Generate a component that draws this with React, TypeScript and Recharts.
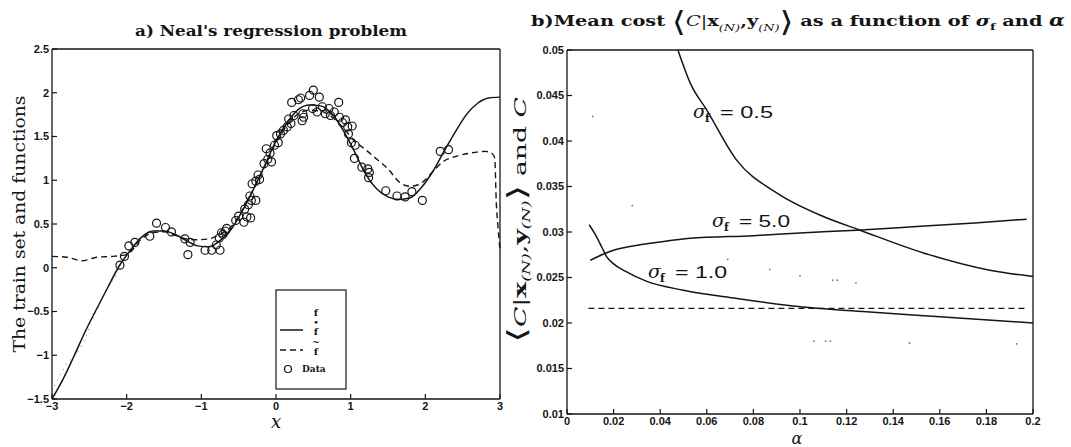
import { ComposedChart, Line, Scatter, XAxis, YAxis } from "recharts";

const SANS = "'Liberation Sans', Arial, sans-serif";
const SERIF = "'DejaVu Serif', 'Liberation Serif', serif";
const BRACKET = "'DejaVu Sans', sans-serif";
const INK = "#151515";

// a) Neal's regression problem
const fX = [-3, -2.85, -2.7, -2.55, -2.42, -2.25, -2.1, -1.95, -1.8, -1.65, -1.5, -1.35, -1.2, -1.05, -0.9, -0.75, -0.6, -0.45, -0.3, -0.15, 0, 0.15, 0.3, 0.45, 0.6, 0.75, 0.9, 1.05, 1.2, 1.35, 1.5, 1.65, 1.8, 1.95, 2.1, 2.25, 2.4, 2.55, 2.7, 2.85, 3];
const fY = [-1.5, -1.27, -1.0, -0.72, -0.5, -0.22, 0.02, 0.2, 0.35, 0.42, 0.42, 0.38, 0.31, 0.25, 0.24, 0.31, 0.44, 0.65, 0.9, 1.17, 1.45, 1.66, 1.81, 1.86, 1.85, 1.76, 1.57, 1.33, 1.07, 0.9, 0.81, 0.78, 0.8, 0.92, 1.1, 1.33, 1.55, 1.75, 1.88, 1.94, 1.95];

const fTildeX = [-3, -2.8, -2.6, -2.4, -2.2, -2.0, -1.8, -1.65, -1.5, -1.35, -1.2, -1.05, -0.9, -0.75, -0.6, -0.45, -0.3, -0.15, 0, 0.15, 0.3, 0.45, 0.6, 0.75, 0.9, 1.05, 1.2, 1.35, 1.5, 1.65, 1.8, 1.95, 2.1, 2.25, 2.4, 2.6, 2.8, 2.9, 2.93, 2.95, 2.97, 3];
const fTildeY = [0.13, 0.12, 0.08, 0.12, 0.13, 0.15, 0.33, 0.4, 0.41, 0.37, 0.33, 0.32, 0.33, 0.38, 0.47, 0.66, 0.9, 1.16, 1.43, 1.63, 1.76, 1.8, 1.79, 1.72, 1.6, 1.45, 1.35, 1.24, 1.13, 0.98, 0.93, 0.97, 1.1, 1.22, 1.27, 1.31, 1.33, 1.3, 1.25, 0.75, 0.5, 0.2];

const fStarX = [-2.97, -2.8, -2.62, -2.44, -2.24, -2.1];
const fStarY = [-1.35, -1.1, -0.92, -0.57, -0.21, -0.05];

const dataX = [-2.09, -2.03, -1.97, -1.89, -1.69, -1.6, -1.48, -1.4, -1.22, -1.15, -1.18, -0.95, -0.86, -0.75, -0.8, -0.76, -0.73, -0.68, -0.66, -0.71, -0.54, -0.5, -0.43, -0.39, -0.34, -0.42, -0.37, -0.33, -0.27, -0.35, -0.32, -0.27, -0.22, -0.24, -0.16, -0.11, -0.06, -0.13, -0.08, -0.02, 0.03, 0.01, 0.06, 0.1, 0.15, 0.2, 0.17, 0.24, 0.21, 0.3, 0.33, 0.35, 0.36, 0.37, 0.5, 0.58, 0.45, 0.49, 0.55, 0.62, 0.66, 0.71, 0.73, 0.78, 0.84, 0.85, 0.89, 0.93, 0.96, 1.02, 0.97, 1.01, 1.06, 1.05, 1.15, 1.23, 1.25, 1.24, 1.47, 1.62, 1.73, 1.82, 1.96, 2.2, 2.31];
const dataY = [0.03, 0.13, 0.25, 0.29, 0.36, 0.51, 0.46, 0.41, 0.33, 0.29, 0.15, 0.2, 0.2, 0.2, 0.26, 0.34, 0.4, 0.42, 0.45, 0.38, 0.54, 0.59, 0.52, 0.58, 0.57, 0.67, 0.72, 0.77, 0.77, 0.82, 0.96, 0.99, 1.01, 1.06, 1.19, 1.24, 1.21, 1.36, 1.31, 1.4, 1.43, 1.51, 1.53, 1.57, 1.61, 1.65, 1.7, 1.74, 1.89, 1.92, 1.94, 1.68, 1.76, 1.72, 2.03, 1.95, 1.97, 1.82, 1.78, 1.84, 1.76, 1.82, 1.74, 1.78, 1.89, 1.72, 1.66, 1.69, 1.61, 1.62, 1.53, 1.43, 1.4, 1.25, 1.15, 1.13, 1.09, 1.03, 0.88, 0.82, 0.81, 0.87, 0.77, 1.33, 1.35];

const xTicksA = [-3, -2, -1, 0, 1, 2, 3];
const yTicksA = [-1.5, -1, -0.5, 0, 0.5, 1, 1.5, 2, 2.5];

// b) mean cost vs alpha
const alpha05 = [0.0476, 0.053, 0.06, 0.0728, 0.09, 0.11, 0.1258, 0.153, 0.1815, 0.2];
const cost05 = [0.05, 0.0463, 0.0434, 0.0379, 0.0343, 0.0317, 0.0302, 0.0277, 0.0258, 0.0251];

const alpha50 = [0.01, 0.015, 0.02, 0.027, 0.04, 0.0528, 0.08, 0.1, 0.1243, 0.15, 0.175, 0.1973];
const cost50 = [0.0269, 0.0275, 0.028, 0.0284, 0.0289, 0.0293, 0.0296, 0.0299, 0.0302, 0.0306, 0.031, 0.0314];

const alpha10 = [0.0095, 0.012, 0.015, 0.017, 0.02, 0.025, 0.034, 0.05, 0.073, 0.096, 0.13, 0.16, 0.2];
const cost10 = [0.0308, 0.0298, 0.0283, 0.0273, 0.0265, 0.0257, 0.0246, 0.0236, 0.0227, 0.0219, 0.0212, 0.0207, 0.02];

const alphaC = [0.0092, 0.197];
const costC = [0.0216, 0.0216];

const speckX = [0.011, 0.028, 0.069, 0.087, 0.1, 0.114, 0.116, 0.124, 0.106, 0.111, 0.113, 0.147, 0.193];
const speckY = [0.0427, 0.0329, 0.027, 0.0259, 0.0252, 0.0247, 0.0247, 0.0244, 0.018, 0.018, 0.018, 0.0178, 0.0177];

const xTicksB = [0, 0.02, 0.04, 0.06, 0.08, 0.1, 0.12, 0.14, 0.16, 0.18, 0.2];
const yTicksB = [0.01, 0.015, 0.02, 0.025, 0.03, 0.035, 0.04, 0.045, 0.05];

const zip = (xs: number[], ys: number[]) => xs.map((x, i) => ({ x, y: ys[i] }));

const tickFont = { fontSize: 11, fontWeight: 700, fill: INK, fontFamily: SANS };
const fmt = (v: number) => String(v).replace("-", "\u2212");
const axisLine = { stroke: INK, strokeWidth: 1.3 };
const tickLine = { stroke: INK, strokeWidth: 1.2 };
const noLabel = () => <g />;

const circle = (p: any) => (
  <circle cx={p.cx} cy={p.cy} r={4} fill="none" stroke={INK} strokeWidth={1.2} />
);
const speck = (p: any) => <circle cx={p.cx} cy={p.cy} r={0.9} fill="#777" />;

export default function App() {
  return (
    <div style={{ position: "absolute", left: 0, top: 0, width: 1071, height: 447, background: "#fff", overflow: "hidden" }}>
      <div style={{ position: "absolute", left: 0, top: 0 }}>
        <ComposedChart width={530} height={447} margin={{ top: 48, right: 29, bottom: 18, left: 12 }}>
          <XAxis type="number" dataKey="x" domain={[-3, 3]} ticks={xTicksA} interval={0} height={30}
            tick={tickFont} tickFormatter={fmt} tickSize={-5} tickMargin={8} tickLine={tickLine} axisLine={axisLine} />
          <XAxis xAxisId="t" orientation="top" type="number" dataKey="x" domain={[-3, 3]} ticks={xTicksA} interval={0}
            height={1} tick={noLabel} tickSize={-5} tickLine={tickLine} axisLine={axisLine} />
          <YAxis type="number" dataKey="y" domain={[-1.5, 2.5]} ticks={yTicksA} interval={0} width={40}
            tick={tickFont} tickFormatter={fmt} tickSize={-5} tickMargin={8} tickLine={tickLine} axisLine={axisLine} />
          <YAxis yAxisId="r" orientation="right" type="number" domain={[-1.5, 2.5]} ticks={yTicksA} interval={0}
            width={1} tick={noLabel} tickSize={-5} tickLine={tickLine} axisLine={axisLine} />
          <Line data={zip(fStarX, fStarY)} dataKey="y" type="monotone" stroke="#999" strokeWidth={1.2}
            strokeDasharray="1 5" dot={false} activeDot={false} isAnimationActive={false} />
          <Line data={zip(fX, fY)} dataKey="y" type="monotone" stroke={INK} strokeWidth={1.5}
            dot={false} activeDot={false} isAnimationActive={false} />
          <Line data={zip(fTildeX, fTildeY)} dataKey="y" type="monotone" stroke={INK} strokeWidth={1.4}
            strokeDasharray="6 4" dot={false} activeDot={false} isAnimationActive={false} />
          <Scatter data={zip(dataX, dataY)} dataKey="y" shape={circle} isAnimationActive={false} />
        </ComposedChart>
      </div>

      <div style={{ position: "absolute", left: 500, top: 0 }}>
        <ComposedChart width={571} height={447} margin={{ top: 49, right: 37, bottom: 13, left: 27 }}>
          <XAxis type="number" dataKey="x" domain={[0, 0.2]} ticks={xTicksB} interval={0} height={20}
            tick={tickFont} tickSize={-5} tickMargin={8} tickLine={tickLine} axisLine={axisLine} />
          <XAxis xAxisId="t" orientation="top" type="number" dataKey="x" domain={[0, 0.2]} ticks={xTicksB} interval={0}
            height={1} tick={noLabel} tickSize={-5} tickLine={tickLine} axisLine={axisLine} />
          <YAxis type="number" dataKey="y" domain={[0.01, 0.05]} ticks={yTicksB} interval={0} width={40}
            tick={tickFont} tickSize={-5} tickMargin={8} tickLine={tickLine} axisLine={axisLine} />
          <YAxis yAxisId="r" orientation="right" type="number" domain={[0.01, 0.05]} ticks={yTicksB} interval={0}
            width={1} tick={noLabel} tickSize={-5} tickLine={tickLine} axisLine={axisLine} />
          <Line data={zip(alpha05, cost05)} dataKey="y" type="monotone" stroke={INK} strokeWidth={1.5}
            dot={false} activeDot={false} isAnimationActive={false} />
          <Line data={zip(alpha50, cost50)} dataKey="y" type="monotone" stroke={INK} strokeWidth={1.5}
            dot={false} activeDot={false} isAnimationActive={false} />
          <Line data={zip(alpha10, cost10)} dataKey="y" type="monotone" stroke={INK} strokeWidth={1.5}
            dot={false} activeDot={false} isAnimationActive={false} />
          <Line data={zip(alphaC, costC)} dataKey="y" type="linear" stroke={INK} strokeWidth={1.3}
            strokeDasharray="6 4" dot={false} activeDot={false} isAnimationActive={false} />
          <Scatter data={zip(speckX, speckY)} dataKey="y" shape={speck} isAnimationActive={false} />
        </ComposedChart>
      </div>

      <svg width={1071} height={447} style={{ position: "absolute", left: 0, top: 0, pointerEvents: "none" }}>
        {/* panel a texts */}
        <text x={271} y={36} textAnchor="middle" fontFamily={SERIF} fontWeight={700} fontSize={15}
          textLength={272} lengthAdjust="spacingAndGlyphs" fill={INK}>a) Neal's regression problem</text>
        <text transform="translate(25,224) rotate(-90)" textAnchor="middle" fontFamily={SERIF} fontSize={17}
          textLength={257} lengthAdjust="spacingAndGlyphs" fill={INK}>The train set and functions</text>
        <text x={276} y={428} textAnchor="middle" fontFamily={SERIF} fontStyle="italic" fontSize={18} fill={INK}>x</text>

        {/* legend */}
        <rect x={276} y={290} width={70} height={99} fill="#fff" stroke={INK} strokeWidth={1.2} />
        <line x1={280} x2={303} y1={330} y2={330} stroke={INK} strokeWidth={1.5} />
        <line x1={280} x2={303} y1={350} y2={350} stroke={INK} strokeWidth={1.4} strokeDasharray="6 4" />
        <circle cx={288} cy={369} r={3.5} fill="none" stroke={INK} strokeWidth={1.2} />
        <g fontFamily={SERIF} fontWeight={700} fill={INK}>
          <text x={316} y={316} fontSize={10} textAnchor="middle">f</text>
          <text x={316} y={325} fontSize={8} textAnchor="middle">•</text>
          <text x={316} y={335} fontSize={10} textAnchor="middle">f</text>
          <text x={316} y={345} fontSize={9} textAnchor="middle">~</text>
          <text x={316} y={355} fontSize={10} textAnchor="middle">f</text>
          <text x={302} y={372} fontSize={9}>Data</text>
        </g>

        {/* panel b title */}
        <text x={531} y={26} fontFamily={SERIF} fontWeight={700} fontSize={15} fill={INK}
          textLength={534} lengthAdjust="spacingAndGlyphs">
          <tspan>{"b)Mean cost "}</tspan>
          <tspan fontFamily={BRACKET} fontWeight={400} fontSize={28} dy={5}>⟨</tspan>
          <tspan fontStyle="italic" fontWeight={400} dy={-5}>C</tspan>
          <tspan fontWeight={400}>|</tspan>
          <tspan>x</tspan>
          <tspan fontSize={10} fontStyle="italic" fontWeight={400} dy={5}>(N)</tspan>
          <tspan dy={-5}>,</tspan>
          <tspan>y</tspan>
          <tspan fontSize={10} fontStyle="italic" fontWeight={400} dy={5}>(N)</tspan>
          <tspan fontFamily={BRACKET} fontWeight={400} fontSize={28}>⟩</tspan>
          <tspan dy={-5}>{" as a function of "}</tspan>
          <tspan fontStyle="italic">σ</tspan>
          <tspan fontSize={10} dy={4}>f</tspan>
          <tspan dy={-4}>{" and "}</tspan>
          <tspan fontStyle="italic" fontSize={16}>α</tspan>
        </text>

        <text transform="translate(526,343) rotate(-90)" fontFamily={SERIF} fontSize={17} fill={INK}
          textLength={246} lengthAdjust="spacingAndGlyphs">
          <tspan fontFamily={BRACKET} fontSize={26}>⟨</tspan>
          <tspan fontStyle="italic">C</tspan>
          <tspan>|</tspan>
          <tspan fontWeight={700}>x</tspan>
          <tspan fontSize={11} fontStyle="italic" dy={4}>(N)</tspan>
          <tspan dy={-4}>,</tspan>
          <tspan fontWeight={700}>y</tspan>
          <tspan fontSize={11} fontStyle="italic" dy={4}>(N)</tspan>
          <tspan fontFamily={BRACKET} fontSize={26} dy={-4}>⟩</tspan>
          <tspan>{" and "}</tspan>
          <tspan fontStyle="italic">C</tspan>
        </text>

        <text x={797} y={444} textAnchor="middle" fontFamily={SERIF} fontStyle="italic" fontSize={16} fill={INK}>α</text>

        <g fill={INK}>
          <text x={693} y={118} fontFamily={SERIF} fontStyle="italic" fontSize={19}>σ</text>
          <text x={705} y={122} fontFamily={SERIF} fontWeight={700} fontSize={11}>f</text>
          <text x={720} y={118} fontFamily={SANS} fontSize={17} textLength={53} lengthAdjust="spacingAndGlyphs">= 0.5</text>

          <text x={712} y={227} fontFamily={SERIF} fontStyle="italic" fontSize={19}>σ</text>
          <text x={724} y={231} fontFamily={SERIF} fontWeight={700} fontSize={11}>f</text>
          <text x={739} y={227} fontFamily={SANS} fontSize={17} textLength={51} lengthAdjust="spacingAndGlyphs">= 5.0</text>

          <text x={648} y={278} fontFamily={SERIF} fontStyle="italic" fontSize={19}>σ</text>
          <text x={660} y={282} fontFamily={SERIF} fontWeight={700} fontSize={11}>f</text>
          <text x={675} y={278} fontFamily={SANS} fontSize={17} textLength={52} lengthAdjust="spacingAndGlyphs">= 1.0</text>
        </g>
      </svg>
    </div>
  );
}
